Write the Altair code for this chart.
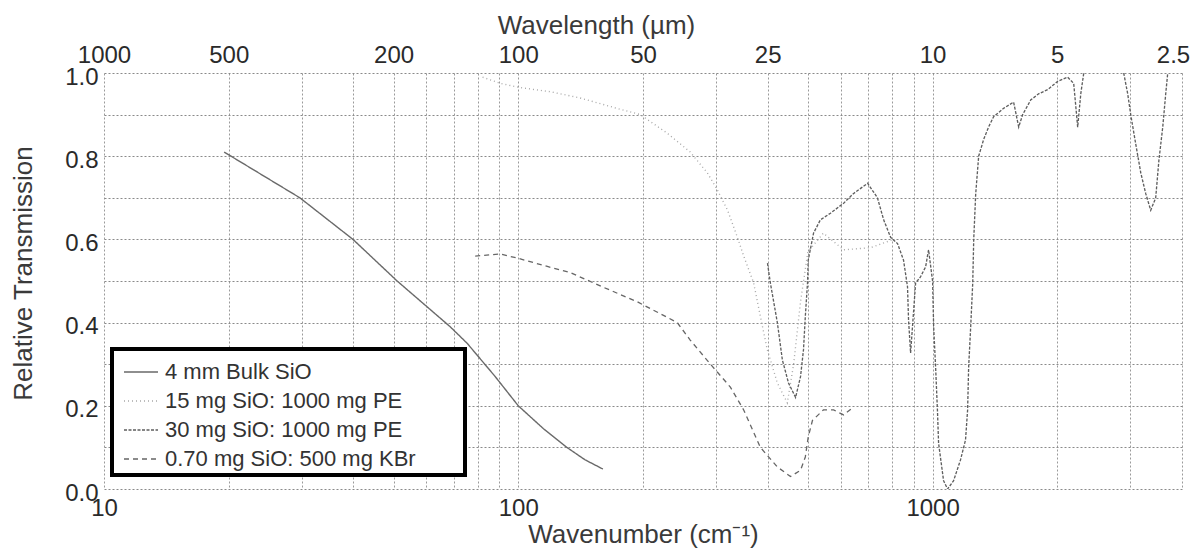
import altair as alt
import pandas as pd

# ---------------- data ----------------
series_names = ["4 mm Bulk SiO", "15 mg SiO: 1000 mg PE",
                "30 mg SiO: 1000 mg PE", "0.70 mg SiO: 500 mg KBr"]

bulk_x = [19.5, 29.7, 39.9, 51.0, 68.5, 75.3, 88, 100, 115, 131, 145, 160]
bulk_y = [0.81, 0.70, 0.60, 0.50, 0.39, 0.35, 0.27, 0.20, 0.145, 0.10, 0.07, 0.048]

pe15_x = [82, 90.5, 101, 119.5, 141, 173, 197, 229, 260, 286, 302, 320, 338, 350,
          370, 384, 399, 422, 446, 462, 480, 500, 545, 610, 708, 805]
pe15_y = [0.99, 0.975, 0.965, 0.955, 0.94, 0.915, 0.90, 0.855, 0.81, 0.76, 0.72, 0.67,
          0.605, 0.56, 0.495, 0.415, 0.335, 0.255, 0.207, 0.30, 0.45, 0.57, 0.615,
          0.575, 0.58, 0.60]

pe30a_x = [399.5, 406, 422, 434, 449, 467, 480, 488, 493, 499, 501, 516, 536, 567, 610,
           644, 697, 736, 762, 792, 823, 851, 870, 875, 885, 910, 935, 962, 978, 1000,
           1006, 1017, 1028, 1034, 1063, 1087, 1124, 1168, 1201, 1215, 1222, 1236, 1250,
           1257, 1271, 1292, 1328, 1365, 1404, 1484, 1569, 1614, 1650, 1725, 1803, 1896,
           2004, 2118, 2191, 2240, 2279, 2317]
pe30a_y = [0.543, 0.495, 0.40, 0.31, 0.255, 0.22, 0.27, 0.335, 0.415, 0.495, 0.55, 0.615,
           0.647, 0.663, 0.687, 0.71, 0.735, 0.70, 0.647, 0.605, 0.59, 0.55, 0.486, 0.406,
           0.327, 0.495, 0.51, 0.534, 0.575, 0.50, 0.39, 0.293, 0.183, 0.11, 0.02, 0.0,
           0.02, 0.07, 0.118, 0.19, 0.293, 0.39, 0.495, 0.60, 0.71, 0.80, 0.84, 0.87,
           0.895, 0.915, 0.93, 0.87, 0.90, 0.935, 0.95, 0.96, 0.98, 0.99, 0.975, 0.87,
           0.95, 1.0]
pe30b_x = [2893, 2958, 3008, 3092, 3181, 3270, 3362, 3456, 3518, 3594, 3654, 3695]
pe30b_y = [1.0, 0.95, 0.90, 0.83, 0.76, 0.71, 0.67, 0.70, 0.79, 0.87, 0.95, 1.0]

kbr_x = [78.7, 90.5, 99.5, 117.5, 133.6, 160.4, 193.8, 242, 260, 291, 325, 350, 384,
         422, 454, 480, 493, 501, 513, 545, 577, 610, 644]
kbr_y = [0.56, 0.565, 0.555, 0.535, 0.52, 0.485, 0.45, 0.40, 0.358, 0.30, 0.245, 0.19,
         0.10, 0.053, 0.03, 0.045, 0.077, 0.125, 0.165, 0.19, 0.19, 0.178, 0.197]

x_grid_values = [10, 20, 30, 40, 50, 60, 70, 80, 90, 100, 200, 300, 400, 500, 600,
                 700, 800, 900, 1000, 2000, 3000, 4000]
x_label_values = [10, 100, 1000]
top_tick_values = [10, 20, 50, 100, 200, 400, 1000, 2000, 4000]
y_values = [0.0, 0.1, 0.2, 0.3, 0.4, 0.5, 0.6, 0.7, 0.8, 0.9, 1.0]

# ---------------- table ----------------
rows = []
def add(name, seg, xs, ys):
    for a, b in zip(xs, ys):
        rows.append({"series": name, "seg": seg, "wn": a, "T": b})

add(series_names[0], "a", bulk_x, bulk_y)
add(series_names[1], "a", pe15_x, pe15_y)
add(series_names[2], "a", pe30a_x, pe30a_y)
add(series_names[2], "b", pe30b_x, pe30b_y)
add(series_names[3], "a", kbr_x, kbr_y)
df = pd.DataFrame(rows)
top_df = pd.DataFrame({"wn": top_tick_values})

FONT = "Liberation Sans, Arial, sans-serif"
PAD = "\u2800\u00a0\u00a0\u2800"
label_test = " || ".join("datum.value==%d" % v for v in x_label_values)

xscale = alt.Scale(type="log", domain=[10, 4000], nice=False)

lines = alt.Chart(df).mark_line(clip=True).encode(
    x=alt.X("wn:Q", scale=xscale,
            axis=alt.Axis(values=x_grid_values, orient="bottom",
                          labelExpr="(" + label_test + ") ? ('' + datum.value) : ''",
                          title="Wavenumber (cm\u207b\u00b9)", titleY=45, titleBaseline="middle",
                          labelOverlap=False, labelFlush=False, labelBound=False,
                          ticks=False, domain=False, labelPadding=7,
                          grid=True, gridColor="#9a9a9a", gridDash=[2, 2])),
    y=alt.Y("T:Q", scale=alt.Scale(domain=[0, 1], nice=False),
            axis=alt.Axis(values=y_values,
                          labelExpr="(round(datum.value*10) % 2 == 0) ? format(datum.value, '.1f') : ''",
                          title="Relative Transmission", titleX=-81, titleY=200,
                          titleBaseline="middle", titleAlign="center",
                          ticks=False, domain=False, labelPadding=6, labelOffset=4,
                          labelOverlap=False, labelFlush=False, labelBound=False,
                          grid=True, gridColor="#8a8a8a", gridDash=[2, 2])),
    color=alt.Color("series:N", scale=alt.Scale(domain=series_names,
                    range=["#6a6a6a", "#a8a8a8", "#5e5e5e", "#666666"]),
                    legend=alt.Legend(title=None, orient="none", legendX=8, legendY=276,
                                      labelExpr="datum.label + '" + PAD + "'",
                                      symbolType="stroke", symbolSize=1156,
                                      symbolOffset=6,
                                      labelFontSize=22, labelFont=FONT, labelColor="#333",
                                      labelLimit=0, labelOffset=6, rowPadding=0,
                                      padding=5, fillColor="white", strokeColor="black")),
    strokeDash=alt.StrokeDash("series:N", scale=alt.Scale(domain=series_names,
                              range=[[1, 0], [1, 3], [3, 1.5], [5, 4]]), legend=None),
    strokeWidth=alt.StrokeWidth("series:N", scale=alt.Scale(domain=series_names,
                                range=[1.4, 1.3, 3.0, 1.6]), legend=None),
    detail="seg:N",
)

top_axis = alt.Chart(top_df).mark_point(opacity=0).encode(
    x=alt.X("wn:Q", scale=xscale,
            axis=alt.Axis(orient="top", values=top_tick_values,
                          labelExpr="'' + (10000 / datum.value)",
                          labelOffset=alt.condition("datum.value == 4000", alt.value(-9), alt.value(0)),
                          title="Wavelength (\u00b5m)", titleX=492, titleY=-48,
                          titleBaseline="middle",
                          labelOverlap=False, labelFlush=False, labelBound=False,
                          ticks=False, domain=False, grid=False, labelPadding=6)),
    y=alt.value(0),
)

chart = alt.layer(lines, top_axis).resolve_axis(x="independent").properties(
    width=1078, height=416,
    padding={"left": 96, "top": 65, "right": 8, "bottom": 59},
    autosize=alt.AutoSizeParams(type="none"),
).configure_view(strokeWidth=0).configure_axis(
    labelFont=FONT, labelFontSize=24, labelColor="#2a2a2a",
    titleFont=FONT, titleFontSize=26, titleColor="#3a3a3a", titleFontWeight="normal",
).configure_legend(strokeWidth=4)

chart.save("out.html", embed_options={"renderer": "svg", "actions": False})
